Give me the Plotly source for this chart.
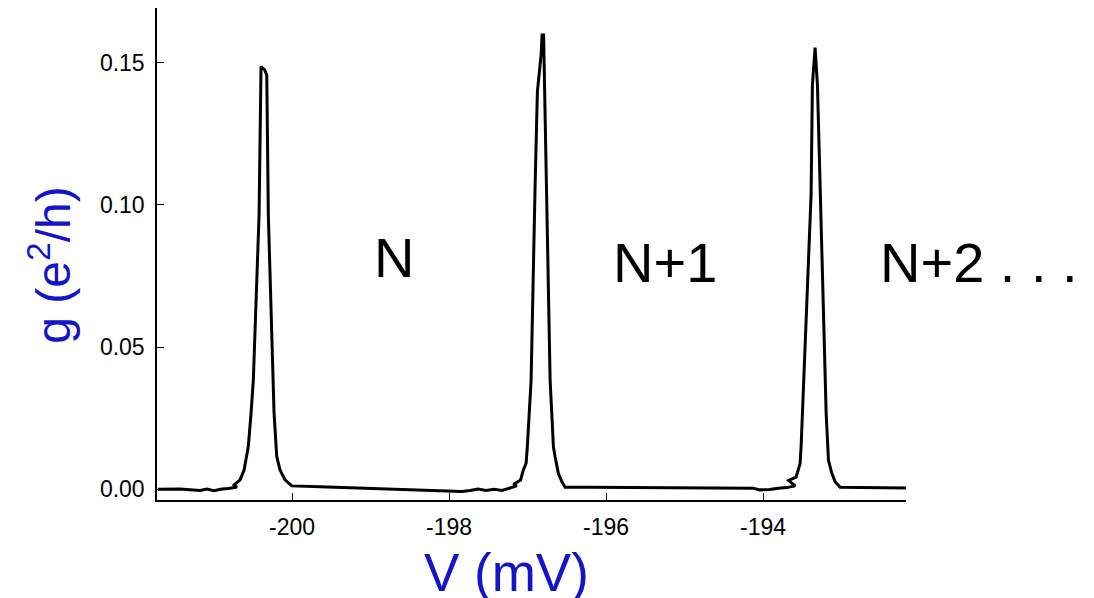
import plotly.graph_objects as go

# ---- data ----
voltage_mV = [
    -201.707, -201.427, -201.172, -201.083, -200.994, -200.892, -200.81, -200.70, -200.75,
    -200.662, -200.611, -200.577, -200.557, -200.522, -200.493, -200.420, -200.408,
    -200.395, -200.350, -200.322, -200.302, -200.246, -200.229, -200.195, -200.153,
    -200.089, -200.004, -199.643,
    -197.838, -197.732, -197.631, -197.529, -197.427, -197.325, -197.223, -197.138, -197.180,
    -197.089, -197.054, -197.019, -197.003, -196.977, -196.955, -196.904, -196.875,
    -196.828, -196.815, -196.796, -196.790, -196.764, -196.713, -196.692, -196.671,
    -196.650, -196.608, -196.564, -196.522, -196.204,
    -194.127, -194.042, -193.915, -193.809, -193.698, -193.592, -193.675, -193.580,
    -193.550, -193.529, -193.516, -193.499, -193.474, -193.389, -193.372, -193.338,
    -193.308, -193.274, -193.210, -193.197, -193.176, -193.168, -193.125, -193.083,
    -193.019, -192.701, -192.18,
]
conductance = [
    0.0000, 0.0001, -0.0004, 0.0001, -0.0005, 0.0001, 0.0003, 0.0008, 0.0013,
    0.0033, 0.0068, 0.0115, 0.0150, 0.0268, 0.0384, 0.0964, 0.1175,
    0.1486, 0.1475, 0.1457, 0.0964, 0.0384, 0.0268, 0.0115, 0.0068,
    0.0033, 0.0012, 0.0009,
    -0.0008, -0.0004, 0.0001, -0.0004, 0.0000, -0.0004, 0.0006, 0.0012, 0.0018,
    0.0033, 0.0068, 0.0091, 0.0150, 0.0267, 0.0384, 0.1070, 0.1398,
    0.1527, 0.1597, 0.1597, 0.1516, 0.1070, 0.0384, 0.0267, 0.0150,
    0.0115, 0.0056, 0.0027, 0.0007, 0.0007,
    0.0004, -0.0002, -0.0001, 0.0004, 0.0006, 0.0012, 0.0031, 0.0043,
    0.0068, 0.0091, 0.0150, 0.0267, 0.0384, 0.1035, 0.1422, 0.1553,
    0.1422, 0.1035, 0.0384, 0.0267, 0.0150, 0.0103, 0.0056, 0.0027,
    0.0007, 0.0007, 0.0005,
]
x_tick_values = [-200, -198, -196, -194]
x_tick_labels = ["-200", "-198", "-196", "-194"]
y_tick_values = [0.00, 0.05, 0.10, 0.15]
y_tick_labels = ["0.00", "0.05", "0.10", "0.15"]
state_labels = ["N", "N+1", "N+2 . . ."]

FONT = "Arial, Liberation Sans, sans-serif"
BLUE = "#1414C8"

fig = go.Figure()
fig.add_trace(go.Scatter(
    x=voltage_mV, y=conductance, mode="lines",
    line=dict(color="black", width=3), showlegend=False, hoverinfo="skip",
))

fig.update_layout(
    width=1094, height=598,
    margin=dict(l=157, r=188, t=8, b=98),
    paper_bgcolor="white", plot_bgcolor="white",
    font=dict(family=FONT, color="black"),
)
fig.update_xaxes(
    range=[-201.72, -192.18], showgrid=False, zeroline=False,
    showline=True, linecolor="black", linewidth=1.5,
    ticks="inside", ticklen=7, tickwidth=1, tickcolor="black",
    tickvals=x_tick_values, ticktext=x_tick_labels,
    tickfont=dict(size=23, family=FONT, color="black"),
    ticklabelstandoff=6,
)
fig.update_yaxes(
    range=[-0.00376, 0.1692], showgrid=False, zeroline=False,
    showline=True, linecolor="black", linewidth=1.5,
    ticks="inside", ticklen=7, tickwidth=1, tickcolor="black",
    tickvals=y_tick_values, ticktext=y_tick_labels,
    tickfont=dict(size=23, family=FONT, color="black"),
    ticklabelstandoff=6,
)

ann = [
    dict(text="V (mV)", x=0.466, y=-0.148, xref="paper", yref="paper",
         showarrow=False, font=dict(size=53, family=FONT, color=BLUE),
         xanchor="center", yanchor="middle"),
    dict(text="g (e<sup>2</sup>/h)", x=-0.143, y=0.478, xref="paper", yref="paper",
         showarrow=False, textangle=-90, font=dict(size=48, family=FONT, color=BLUE),
         xanchor="center", yanchor="middle"),
    dict(text=state_labels[0], x=0.3164, y=0.4919, xref="paper", yref="paper",
         showarrow=False, font=dict(size=56, family=FONT, color="black"),
         xanchor="center", yanchor="middle"),
    dict(text=state_labels[1], x=0.678, y=0.4837, xref="paper", yref="paper",
         showarrow=False, font=dict(size=56, family=FONT, color="black"),
         xanchor="center", yanchor="middle"),
    dict(text=state_labels[2], x=0.9626, y=0.4837, xref="paper", yref="paper",
         showarrow=False, font=dict(size=56, family=FONT, color="black"),
         xanchor="left", yanchor="middle"),
]
fig.update_layout(annotations=ann)

fig.write_html(
    "out.html",
    include_plotlyjs=True,
    config={"displayModeBar": False},
    post_script="document.body.style.margin='0px';document.body.style.padding='0px';",
)
